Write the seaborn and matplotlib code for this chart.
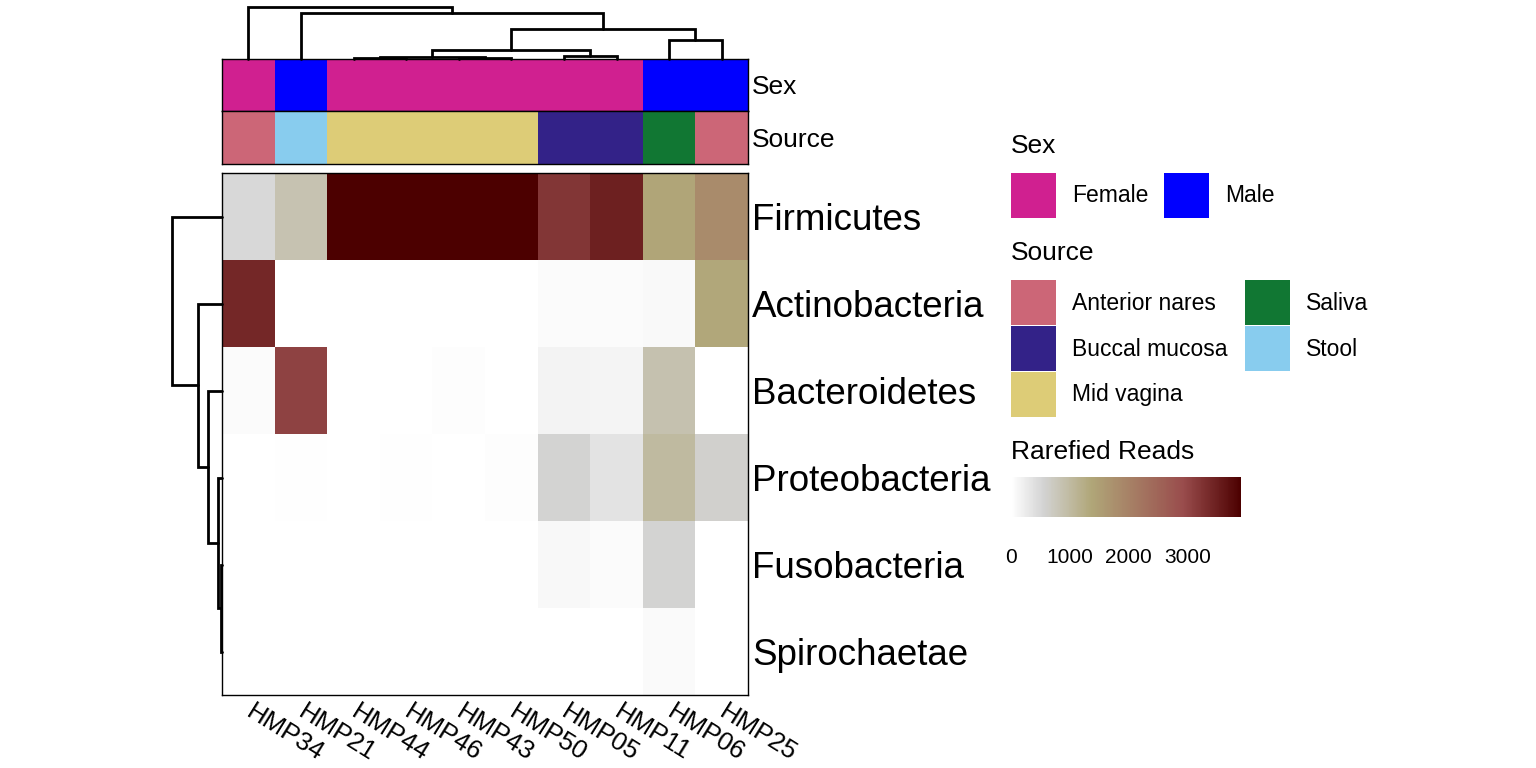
import numpy as np
import pandas as pd
import matplotlib
matplotlib.use("Agg")
import matplotlib.pyplot as plt
from matplotlib.colors import LinearSegmentedColormap, ListedColormap
from matplotlib.patches import Rectangle
import seaborn as sns

# ---- data ----
samples = ["HMP34", "HMP21", "HMP44", "HMP46", "HMP43",
           "HMP50", "HMP05", "HMP11", "HMP06", "HMP25"]
phyla = ["Firmicutes", "Actinobacteria", "Bacteroidetes",
         "Proteobacteria", "Fusobacteria", "Spirochaetae"]

firmicutes = [490, 860, 3900, 3915, 3905, 3910, 3220, 3490, 1390, 1840]
actinobacteria = [3400, 0, 0, 5, 10, 0, 50, 50, 80, 1350]
bacteroidetes = [50, 3070, 0, 0, 35, 0, 160, 150, 875, 0]
proteobacteria = [10, 20, 0, 20, 0, 35, 560, 360, 1020, 600]
fusobacteria = [0, 0, 0, 0, 0, 0, 100, 50, 560, 0]
spirochaetae = [0, 0, 0, 0, 0, 0, 0, 0, 75, 0]

sex = ["Female", "Male", "Female", "Female", "Female",
       "Female", "Female", "Female", "Male", "Male"]
source = ["Anterior nares", "Stool", "Mid vagina", "Mid vagina", "Mid vagina",
          "Mid vagina", "Buccal mucosa", "Buccal mucosa", "Saliva", "Anterior nares"]

sex_levels = ["Female", "Male"]
sex_colors = ["#D02090", "#0000FF"]
source_levels = ["Anterior nares", "Buccal mucosa", "Mid vagina", "Saliva", "Stool"]
source_colors = ["#CC6677", "#332288", "#DDCC77", "#117733", "#88CCEE"]

# hierarchical merges (child a, child b, height); ids >= n are earlier merges
col_merges = [(2, 3, 0.6), (4, 5, 1.0), (10, 11, 1.6), (6, 7, 3.5), (12, 13, 9.5),
              (8, 9, 19), (14, 15, 30), (1, 16, 46), (0, 17, 52)]
row_merges = [(4, 5, 1.3), (3, 6, 4.5), (2, 7, 14), (1, 8, 24), (0, 9, 50)]

reads_max = 3915
color_stops = [0.0, 0.14, 0.35, 0.75, 1.0]
color_list = ["#FFFFFF", "#D3D3D3", "#B0A678", "#994C4C", "#4C0000"]

# ---- setup ----
sns.set_style("white")
plt.rcParams["font.family"] = ["Liberation Sans", "DejaVu Sans"]
plt.rcParams["text.color"] = "black"
plt.rcParams["xtick.labelcolor"] = "black"
plt.rcParams["ytick.labelcolor"] = "black"

W, H = 1536, 768
fig = plt.figure(figsize=(W / 100, H / 100), dpi=100)


def px_box(x0, y0, x1, y1):
    return [x0 / W, 1 - y1 / H, (x1 - x0) / W, (y1 - y0) / H]


def dendro_segments(n, merges):
    pos = {i: i + 0.5 for i in range(n)}
    hgt = {i: 0.0 for i in range(n)}
    segs = []
    for k, (a, b, h) in enumerate(merges):
        segs.append(([pos[a], pos[a], pos[b], pos[b]], [hgt[a], h, h, hgt[b]]))
        pos[n + k] = (pos[a] + pos[b]) / 2
        hgt[n + k] = h
    return segs


# overlay axes in pixel units for the legends
ax_leg = fig.add_axes([0, 0, 1, 1])
ax_leg.set_xlim(0, W)
ax_leg.set_ylim(H, 0)
ax_leg.axis("off")

# main heatmap
mat = pd.DataFrame([firmicutes, actinobacteria, bacteroidetes,
                    proteobacteria, fusobacteria, spirochaetae],
                   index=phyla, columns=samples)
reads_cmap = LinearSegmentedColormap.from_list("reads", list(zip(color_stops, color_list)))

ax_heat = fig.add_axes(px_box(222, 173, 748, 695))
sns.heatmap(mat, ax=ax_heat, cmap=reads_cmap, vmin=0, vmax=reads_max,
            cbar=False, xticklabels=True, yticklabels=True)
ax_heat.yaxis.tick_right()
ax_heat.set_yticklabels(phyla, rotation=0, fontsize=26.5, va="center_baseline")
ax_heat.set_xticklabels(samples, rotation=-32, ha="left", va="center",
                        rotation_mode="anchor", fontsize=18.5)
ax_heat.tick_params(axis="y", length=0, pad=3)
ax_heat.tick_params(axis="x", length=0, pad=11)
ax_heat.set_xlabel("")
ax_heat.set_ylabel("")

# annotation bars
sex_codes = pd.DataFrame([[sex_levels.index(s) for s in sex]], index=["Sex"], columns=samples)
src_codes = pd.DataFrame([[source_levels.index(s) for s in source]], index=["Source"], columns=samples)

ax_sex = fig.add_axes(px_box(222, 59, 748, 111))
sns.heatmap(sex_codes, ax=ax_sex, cmap=ListedColormap(sex_colors), vmin=-0.5,
            vmax=len(sex_levels) - 0.5, cbar=False, xticklabels=False, yticklabels=True)
ax_src = fig.add_axes(px_box(222, 111, 748, 164))
sns.heatmap(src_codes, ax=ax_src, cmap=ListedColormap(source_colors), vmin=-0.5,
            vmax=len(source_levels) - 0.5, cbar=False, xticklabels=False, yticklabels=True)
for a in (ax_sex, ax_src):
    a.yaxis.tick_right()
    a.set_yticklabels(a.get_yticklabels(), rotation=0, fontsize=19, va="center_baseline")
    a.tick_params(axis="y", length=0, pad=3)
    a.set_ylabel("")

for a in (ax_heat, ax_sex, ax_src):
    for sp in a.spines.values():
        sp.set_visible(True)
        sp.set_color("black")
        sp.set_linewidth(1)

# column dendrogram
ax_cd = fig.add_axes(px_box(222, 4, 748, 59))
for xs, ys in dendro_segments(len(samples), col_merges):
    ax_cd.plot(xs, ys, color="black", lw=2, solid_joinstyle="miter", clip_on=False)
ax_cd.set_xlim(0, len(samples))
ax_cd.set_ylim(0, 55)
ax_cd.axis("off")

# row dendrogram
ax_rd = fig.add_axes(px_box(167, 173, 222, 695))
for ps, hs in dendro_segments(len(phyla), row_merges):
    ax_rd.plot(hs, ps, color="black", lw=2, solid_joinstyle="miter", clip_on=False)
ax_rd.set_ylim(len(phyla), 0)
ax_rd.set_xlim(55, 0)
ax_rd.axis("off")


# discrete legends
def draw_legend(title, levels, colors, x0, y_title, y0, col_w, nrow):
    ax_leg.text(x0, y_title, title, fontsize=19, ha="left", va="center")
    for i, (lab, col) in enumerate(zip(levels, colors)):
        c, r = divmod(i, nrow)
        x = x0 + c * col_w
        y = y0 + r * 46
        ax_leg.add_patch(Rectangle((x, y), 45, 45, facecolor=col, edgecolor="none"))
        ax_leg.text(x + 61, y + 23, lab, fontsize=16.5, ha="left", va="center")


draw_legend("Sex", sex_levels, sex_colors, 1011, 146, 173, 153, 1)
draw_legend("Source", source_levels, source_colors, 1011, 253, 280, 234, 3)

# continuous legend
ax_leg.text(1011, 452, "Rarefied Reads", fontsize=19, ha="left", va="center")
cax = fig.add_axes(px_box(1011, 477, 1241, 517))
cb = fig.colorbar(ax_heat.collections[0], cax=cax, orientation="horizontal",
                  ticks=[0, 1000, 2000, 3000])
cb.outline.set_visible(False)
cax.minorticks_off()
cax.tick_params(axis="x", which="major", direction="in", color="white", length=5,
                width=1.2, top=True, bottom=True, labelsize=15, pad=22,
                labelcolor="black")

fig.savefig("out.png", dpi=100)
